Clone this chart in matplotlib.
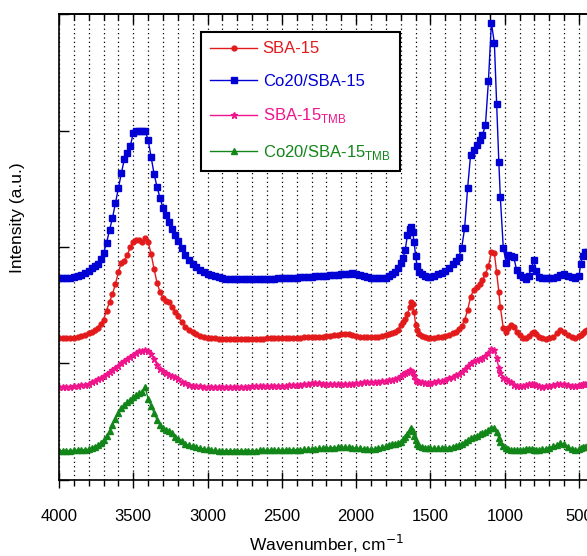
import numpy as np
import matplotlib
matplotlib.use('Agg')
import matplotlib.pyplot as plt
from matplotlib.ticker import MultipleLocator

plt.rcParams['font.family'] = ['Liberation Sans', 'DejaVu Sans']

# FT-IR spectra (stacked, arbitrary units)
wavenumber = np.concatenate([
    np.arange(4000, 3799, -25),            # 9
    np.arange(3780, 3199, -20),            # 30
    np.arange(3175, 1824, -25),            # 55
    [1800, 1780, 1760, 1740, 1720, 1700, 1685, 1670, 1655, 1640,
     1630, 1620, 1610, 1600, 1590, 1575, 1560, 1540, 1520, 1500],
    [1475, 1450, 1425, 1400, 1375, 1350, 1330, 1310],
    [1290, 1270, 1250, 1230, 1210, 1190, 1170, 1150, 1130, 1110, 1090,
     1070, 1055, 1040, 1030, 1010, 990, 975, 960, 940, 920, 900],
    [880, 860, 840, 820, 805, 790, 770, 750, 725, 700, 675, 650, 625,
     600, 575, 550, 525, 500, 490, 475, 460, 445, 430, 415, 400],
])

sba15 = [
    141.7, 141.8, 142, 142.2, 142.3, 143, 144, 145, 146.5,
    148.3, 150.5, 152.5, 156, 160.5, 169.5, 178, 186, 196, 208, 217.5, 219.5, 225, 233, 238.3,
    240, 240, 238.5, 242, 238, 226, 211, 197, 188, 182, 179.5, 178, 173.5, 168.5, 164,
    158, 153, 150, 148, 145.5, 144, 143, 142.3, 142, 141.5,
    141.3, 141, 141, 141, 141, 141, 141, 141, 141, 141,
    141.2, 141.2, 141.4, 141.5, 141.6, 141.7, 141.7, 141.7, 141.9, 142,
    142.1, 142.2, 142.4, 142.5, 142.6, 142.7, 142.9, 143, 143.2, 143.5,
    144, 144.5, 145, 145.5, 145.7, 145.5, 145, 144, 143.3, 142.7,
    142.5, 142.5, 142.8, 143.3, 143.8,
    144.5, 145.5, 146.7, 148, 150, 155, 158.5, 161, 166, 173,
    178, 176, 168, 155, 150, 146, 143.5, 142.5, 142, 141.7,
    142, 142.5, 143, 143.5, 145, 146.5, 148.5, 151,
    154, 160, 170, 183, 190, 193, 196, 200, 206, 214, 228,
    227, 208, 188, 173, 152, 148.5, 152, 155, 153, 148, 144.5,
    142, 141.7, 144, 147, 148.3, 146, 143, 141.5, 140.7, 141.5, 143, 146.5, 150.5,
    148, 144.5, 142.5, 142, 144, 145, 147, 149, 150, 150, 149, 148]

co20_sba15 = [
    202, 202, 202.5, 202.5, 203, 204, 205, 207, 209,
    212, 214.5, 216.5, 221, 227, 237, 250, 262, 277, 292, 307, 321, 327, 334, 347,
    349, 349, 349, 349, 340, 323, 306, 293, 282, 272, 265, 258, 251, 245, 239,
    232, 225, 220, 216, 213, 210, 208, 206, 205, 204,
    203, 202.5, 201.5, 201, 200.7, 200.7, 200.7, 200.7, 200.7, 200.7,
    201, 201, 201, 201, 201.3, 201.5, 201.7, 201.7, 202, 202,
    202.3, 202.5, 202.7, 203, 203.2, 203.3, 203.7, 204, 204.3, 204.5,
    204.7, 205, 205.5, 206, 206.5, 206.5, 206.7, 206.5, 205.5, 204.5,
    203.5, 202.5, 202, 201.7, 202,
    202.5, 204, 206, 208, 212, 217, 222, 230, 245, 251,
    253, 248, 238, 224, 214, 208, 206, 204.5, 203.5, 203.3,
    204.5, 206, 207.5, 209, 212, 216, 219, 223,
    232, 252, 292, 325, 330, 335, 340, 345, 355, 399, 457,
    437, 376, 318, 283, 232, 217, 225, 224, 223, 210, 205,
    203, 201, 204, 212, 220, 209, 203, 201.7, 201.7, 201.7, 201.7, 203, 205.5,
    206, 204, 203, 202, 204, 216, 224, 228, 228, 227, 226, 225]

sba15_tmb = [
    93.3, 93.3, 93.3, 93.4, 93.5, 94, 94.5, 95.2, 96,
    97.5, 99, 100.5, 102, 103.5, 105.5, 107.5, 109.5, 111.5, 114, 116.5, 119, 121, 123, 125,
    127, 128.5, 129.3, 130, 129.3, 126, 121, 115, 111, 108.5, 106.5, 105, 104, 102.5, 100.5,
    98, 96.5, 95, 94, 93.7, 93.5, 93.3, 93.3, 93.3, 93.3,
    93.3, 93.3, 93.3, 93.3, 93.3, 93.3, 93.3, 93.3, 93.4, 93.5,
    93.6, 93.7, 93.8, 94, 94, 94, 94.1, 94.2, 94.3, 94.5,
    94.5, 94.7, 95, 95.5, 96, 96.5, 96.5, 96.5, 96.2, 96,
    96, 96, 96, 96, 96, 96, 96.2, 96.5, 97, 97.5,
    97.8, 98, 98.2, 98.3, 98.6,
    99, 99.5, 100, 101, 102, 104, 105.5, 106.5, 108, 109.5,
    109, 108, 104, 100, 99, 98.3, 97.8, 97.4, 97.3, 97.3,
    97.8, 98.5, 99.3, 100, 101.5, 103, 104.5, 106,
    107.5, 110.5, 114, 117, 118.5, 119.5, 120.5, 121.5, 123.5, 127, 130.7,
    130, 122, 112, 107, 102, 100.5, 99, 97.5, 95, 94, 93.5,
    93.5, 94.5, 95.5, 96, 96, 95, 94, 93.3, 93.5, 94, 94.5, 95.5, 96,
    95.5, 94.5, 93.5, 93.5, 94.5, 95, 95.5, 96, 96, 95.5, 95, 95]

co20_sba15_tmb = [
    29.3, 29.3, 29.3, 29.4, 29.5, 29.7, 30, 30.3, 30.7,
    32, 33, 34.5, 36.5, 39.5, 44, 49, 55, 61, 67, 71.5, 74.5, 77.5, 80, 83.3,
    85, 86.5, 88, 93, 81, 74, 67, 60, 55, 52, 50, 48.5, 46.5, 43, 41,
    39, 36, 34.5, 33.5, 32.5, 31.7, 31, 30.5, 30, 29.5,
    29.3, 29.3, 29.3, 29.3, 29.3, 29.3, 29.3, 29.3, 29.3, 29.3,
    29.4, 29.5, 29.6, 29.7, 29.8, 29.8, 29.9, 30, 30, 30,
    30.1, 30.2, 30.3, 30.5, 30.7, 31, 31.2, 31.5, 31.7, 32,
    32.2, 32.3, 32.5, 32.7, 32.7, 32.5, 32.3, 32, 31.5, 31,
    30.8, 30.7, 31, 31.5, 32.5,
    33.5, 35, 35.5, 36, 36.5, 38, 40.5, 42.5, 46, 49.5,
    51.5, 49, 44, 40, 36, 33.5, 32.5, 31.8, 31.6, 31.5,
    31.6, 31.7, 31.7, 31.7, 32.3, 33, 33.8, 34.5,
    36, 38, 40, 42, 43, 44, 45.5, 46.5, 48, 50, 51.5,
    51.5, 47.5, 42, 38, 34, 31.5, 30.5, 30, 30, 30, 30,
    30.2, 30.5, 30.5, 30.5, 30.2, 30, 30, 30.5, 31, 32, 33.5, 35, 36.5,
    36, 33, 30.5, 30, 31, 32, 33, 33.3, 33.5, 33, 32.5, 32]

labels = ['SBA-15', 'Co20/SBA-15', r'SBA-15$_\mathregular{TMB}$', r'Co20/SBA-15$_\mathregular{TMB}$']
series = [sba15, co20_sba15, sba15_tmb, co20_sba15_tmb]
colors = ['#e31a1c', '#0000d4', '#f0148c', '#13861a']
markers = ['o', 's', '*', '^']
msizes = [3.5, 5, 4.5, 4.5]

fig = plt.figure(figsize=(5.87, 5.56), dpi=100)
ax = fig.add_axes([0.1005, 0.1367, 0.9113, 0.8381])

for y, lab, c, m, ms in zip(series, labels, colors, markers, msizes):
    ax.plot(wavenumber, y, color=c, lw=1, marker=m, ms=ms, mec=c, mfc=c, label=lab)

ax.set_xlim(4000, 400)
ax.set_ylim(0, 466)
ax.xaxis.set_major_locator(MultipleLocator(500))
ax.xaxis.set_minor_locator(MultipleLocator(100))
ax.set_yticks(np.arange(0, 467, 116.5))
ax.set_yticklabels([])
ax.grid(which='both', axis='x', color='black', lw=0.9, linestyle=(0, (1, 2.5)))
ax.set_axisbelow(True)

ax.tick_params(axis='x', which='major', direction='inout', length=12, width=1, labelsize=12, pad=15)
ax.tick_params(axis='x', which='minor', direction='out', length=4, width=1)
ax.tick_params(axis='y', which='major', direction='in', length=7, width=1)
for sp in ax.spines.values():
    sp.set_linewidth(1.2)

# top ticks point inwards only
top = ax.secondary_xaxis('top')
top.xaxis.set_major_locator(MultipleLocator(500))
top.xaxis.set_minor_locator(MultipleLocator(100))
top.tick_params(which='major', direction='in', length=7, width=1, labeltop=False)
top.tick_params(which='minor', direction='in', length=4, width=1)
top.spines['top'].set_linewidth(1.2)

ax.set_xlabel('Wavenumber, cm$^{-1}$', fontsize=12.5, labelpad=6.5)
ax.set_ylabel('Intensity (a.u.)', fontsize=12.5)
ax.yaxis.set_label_coords(-0.063, 0.562)

leg = ax.legend(loc='upper left', bbox_to_anchor=(0.2655, 0.961), borderaxespad=0,
                fontsize=12, handlelength=2.8, handletextpad=0.35, labelspacing=1.05,
                borderpad=0.55, fancybox=False, edgecolor='black', framealpha=1)
leg.get_frame().set_linewidth(1.5)
for txt, c in zip(leg.get_texts(), colors):
    txt.set_color(c)

fig.savefig('out.png', dpi=100)
